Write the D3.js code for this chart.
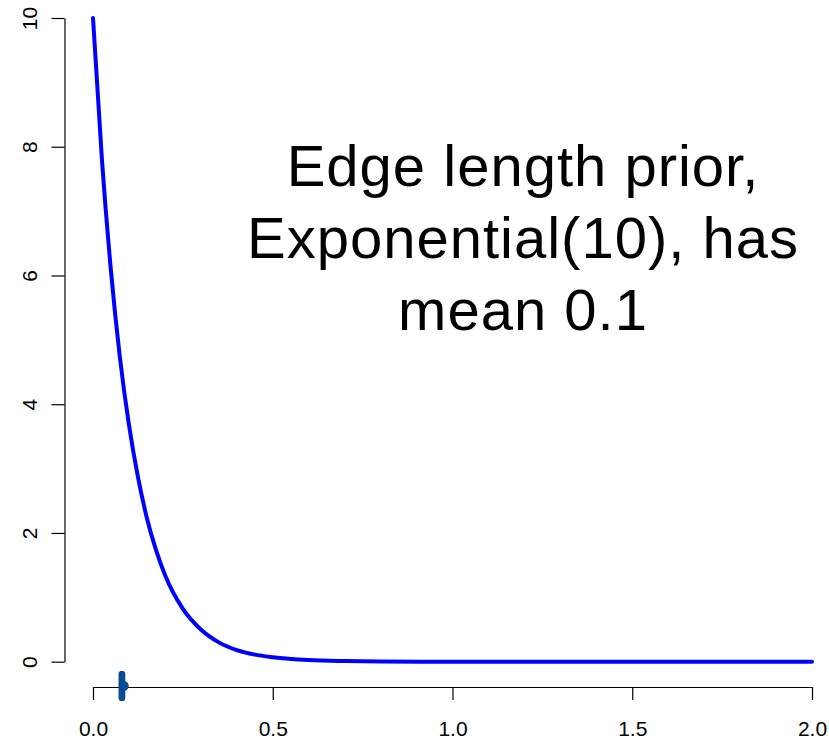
<!DOCTYPE html>
<html>
<head>
<meta charset="utf-8">
<script src="https://cdn.jsdelivr.net/npm/d3@7"></script>
<style>
  html, body { margin: 0; padding: 0; background: #fff; }
  svg text { font-family: "Liberation Sans", Arial, Helvetica, sans-serif; fill: #000; }
</style>
</head>
<body>
<svg id="chart" width="829" height="740"></svg>
<script>
// density curve (edge length vs density)
const edgeLength = [0, 0.025, 0.05, 0.075, 0.1, 0.125, 0.15, 0.175, 0.2, 0.25, 0.3, 0.35, 0.4, 0.45, 0.5, 0.6, 0.7, 0.8, 1.0, 1.25, 1.5, 1.75, 2.0]
const density    = [10, 7.79, 6.07, 4.72, 3.68, 2.87, 2.23, 1.74, 1.35, 0.82, 0.50, 0.30, 0.18, 0.11, 0.07, 0.025, 0.009, 0.003, 0, 0, 0, 0, 0]

// sampled edge lengths shown as a rug, and their mean
const samples = [0.0795, 0.0805, 0.0815]
const sampleMean = [0.0855]

const xTicks = [0, 0.5, 1.0, 1.5, 2.0]
const yTicks = [0, 2, 4, 6, 8, 10]

const titleLines = ["Edge length prior,", "Exponential(10), has", "mean 0.1"]

const svg = d3.select("#chart")

const x = d3.scaleLinear().domain([0, 2]).range([93, 812])
const y = d3.scaleLinear().domain([0, 10]).range([661.7, 18])

// y axis
const yAxis = svg.append("g")
    .attr("transform", "translate(64.5,0)")
    .call(d3.axisLeft(y).tickValues(yTicks).tickFormat(d3.format("d")).tickSize(13).tickSizeOuter(0))
yAxis.select(".domain").attr("stroke", "#000").attr("stroke-width", 1.2)
yAxis.selectAll(".tick line").attr("stroke", "#000").attr("stroke-width", 1.2)
yAxis.selectAll(".tick text")
    .attr("x", null).attr("dy", null)
    .attr("transform", "translate(-33,0) rotate(-90)")
    .attr("text-anchor", "middle")
    .attr("dominant-baseline", "middle")
    .style("font-size", "21px")
    .style("font-family", "Liberation Sans, Arial, sans-serif")

// x axis
const xAxis = svg.append("g")
    .attr("transform", "translate(0,687)")
    .call(d3.axisBottom(x).tickValues(xTicks).tickFormat(d3.format(".1f")).tickSize(13).tickSizeOuter(0))
xAxis.select(".domain").attr("stroke", "#000").attr("stroke-width", 1.2)
xAxis.selectAll(".tick line").attr("stroke", "#000").attr("stroke-width", 1.2)
xAxis.selectAll(".tick text")
    .attr("y", 49).attr("dy", null)
    .style("font-size", "21px")
    .style("font-family", "Liberation Sans, Arial, sans-serif")

// density curve
const line = d3.line()
    .x((d, i) => x(edgeLength[i]))
    .y(d => y(d))
    .curve(d3.curveMonotoneX)

svg.append("path")
    .datum(density)
    .attr("d", line)
    .attr("fill", "none")
    .attr("stroke", "#0000ff")
    .attr("stroke-width", 4)
    .attr("stroke-linecap", "round")

// rug of samples
svg.selectAll("line.rug")
  .data(samples)
  .join("line")
    .attr("class", "rug")
    .attr("x1", d => x(d)).attr("x2", d => x(d))
    .attr("y1", 674).attr("y2", 698)
    .attr("stroke", "#0a4b95")
    .attr("stroke-width", 6)
    .attr("stroke-linecap", "round")

svg.selectAll("circle.mean")
  .data(sampleMean)
  .join("circle")
    .attr("class", "mean")
    .attr("cx", d => x(d))
    .attr("cy", 686)
    .attr("r", 5)
    .attr("fill", "#0a4b95")

// annotation
svg.append("text")
    .attr("x", 523)
    .attr("text-anchor", "middle")
    .style("font-size", "58px")
    .style("letter-spacing", "1px")
  .selectAll("tspan")
  .data(titleLines)
  .join("tspan")
    .attr("x", 523)
    .attr("y", (d, i) => 186 + i * 72)
    .text(d => d)
</script>
</body>
</html>
